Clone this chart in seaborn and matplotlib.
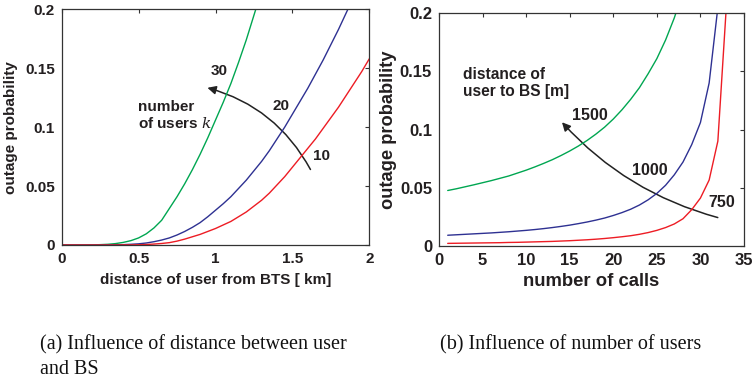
import numpy as np
import pandas as pd
import matplotlib
matplotlib.use("Agg")
import matplotlib.pyplot as plt
from matplotlib.patches import FancyArrowPatch
import seaborn as sns

# ---- (a) outage probability vs distance, for k users ----
dist_km = [0.00, 0.05, 0.10, 0.15, 0.20, 0.25, 0.30, 0.35, 0.40, 0.45,
           0.50, 0.55, 0.60, 0.65, 0.70, 0.75, 0.80, 0.85, 0.90, 0.95,
           1.00, 1.05, 1.10, 1.15, 1.20, 1.25, 1.30, 1.35, 1.40, 1.45,
           1.50, 1.55, 1.60, 1.65, 1.70, 1.75, 1.80, 1.85, 1.90, 1.95, 2.00]
users_30 = [0.0, 0.0, 0.0, 0.0, 0.0001, 0.0003, 0.0006, 0.0012, 0.0022,
            0.0037, 0.006, 0.0095, 0.0145, 0.021, 0.031, 0.041, 0.052,
            0.064, 0.077, 0.091, 0.106, 0.121, 0.137, 0.155, 0.174, 0.195,
            0.216]
users_20 = [0.0, 0.0, 0.0, 0.0, 0.0, 0.0, 0.0001, 0.0002, 0.0003, 0.0006,
            0.001, 0.0017, 0.0028, 0.0042, 0.006, 0.0085, 0.0115, 0.015,
            0.019, 0.024, 0.0295, 0.035, 0.041, 0.048, 0.055, 0.063, 0.071,
            0.080, 0.090, 0.100, 0.111, 0.122, 0.133, 0.145, 0.157, 0.170,
            0.183, 0.197, 0.211]
users_10 = [0.0, 0.0, 0.0, 0.0, 0.0, 0.0, 0.0, 0.0, 0.0001, 0.0001,
            0.0002, 0.0004, 0.0008, 0.0013, 0.002, 0.0033, 0.005, 0.007,
            0.009, 0.0115, 0.014, 0.017, 0.020, 0.024, 0.028, 0.033, 0.038,
            0.044, 0.051, 0.058, 0.066, 0.074, 0.082, 0.090, 0.099, 0.108,
            0.117, 0.127, 0.137, 0.147, 0.158]
user_counts = ["30", "20", "10"]

# ---- (b) outage probability vs number of calls, for user-BS distance ----
calls = list(range(1, 34))
out_1500 = [0.0475, 0.049, 0.0507, 0.0524, 0.0542, 0.056, 0.058, 0.060,
            0.0625, 0.065, 0.0678, 0.0708, 0.074, 0.0776, 0.0815, 0.0858,
            0.0906, 0.096, 0.102, 0.109, 0.117, 0.126, 0.136, 0.148, 0.161,
            0.177, 0.196, 0.219]
out_1000 = [0.009, 0.0094, 0.0098, 0.0102, 0.0106, 0.011, 0.0115, 0.012,
            0.0126, 0.0132, 0.0139, 0.0147, 0.0156, 0.0166, 0.0177, 0.019,
            0.0204, 0.022, 0.0238, 0.026, 0.0285, 0.0314, 0.035, 0.0395,
            0.045, 0.052, 0.061, 0.072, 0.087, 0.106, 0.140, 0.205]
out_750 = [0.0020, 0.0021, 0.0022, 0.0023, 0.0024, 0.0025, 0.0026, 0.0028,
           0.0029, 0.0031, 0.0033, 0.0035, 0.0037, 0.0040, 0.0043, 0.0047,
           0.0051, 0.0056, 0.0062, 0.0069, 0.0077, 0.0086, 0.0098, 0.0113,
           0.0132, 0.0156, 0.0187, 0.0232, 0.031, 0.041, 0.0565, 0.090,
           0.209]
distances_m = ["1500", "1000", "750"]

GREEN, BLUE, RED = "#00a651", "#2e3192", "#ed1c24"
INK = "#231f20"

sns.set_theme(style="white")
plt.rcParams["font.family"] = ["Liberation Sans", "DejaVu Sans"]
plt.rcParams["mathtext.fontset"] = "dejavuserif"

df_a = pd.concat([
    pd.DataFrame({"d": dist_km[:len(users_30)], "p": users_30, "k": "30"}),
    pd.DataFrame({"d": dist_km[:len(users_20)], "p": users_20, "k": "20"}),
    pd.DataFrame({"d": dist_km[:len(users_10)], "p": users_10, "k": "10"}),
])
df_b = pd.concat([
    pd.DataFrame({"n": calls[:len(out_1500)], "p": out_1500, "r": "1500"}),
    pd.DataFrame({"n": calls[:len(out_1000)], "p": out_1000, "r": "1000"}),
    pd.DataFrame({"n": calls[:len(out_750)], "p": out_750, "r": "750"}),
])

fig = plt.figure(figsize=(7.53, 3.84), dpi=100)
ax1 = fig.add_axes([61.7 / 753, 1 - 245 / 384, (369.3 - 61.7) / 753, (245 - 9.3) / 384])
ax2 = fig.add_axes([439 / 753, 1 - 245.7 / 384, (744 - 439) / 753, (245.7 - 13.3) / 384])

sns.lineplot(data=df_a, x="d", y="p", hue="k", hue_order=user_counts,
             palette=[GREEN, BLUE, RED], linewidth=1.0, legend=False,
             ax=ax1, estimator=None, sort=False)
sns.lineplot(data=df_b, x="n", y="p", hue="r", hue_order=distances_m,
             palette=[GREEN, BLUE, RED], linewidth=1.0, legend=False,
             ax=ax2, estimator=None, sort=False)


def style_axes(ax, size):
    for s in ax.spines.values():
        s.set_color("#333333")
        s.set_linewidth(0.9)
    ax.tick_params(direction="in", length=3, width=0.8, colors="#333333",
                   top=True, right=True, labelsize=size, labelcolor=INK,
                   pad=5)
    for lab in ax.get_xticklabels() + ax.get_yticklabels():
        lab.set_fontweight("bold")


ax1.set_xlim(0, 2)
ax1.set_ylim(0, 0.2)
ax1.set_xticks([0, 0.5, 1, 1.5, 2])
ax1.set_xticklabels(["0", "0.5", "1", "1.5", "2"])
ax1.set_yticks([0, 0.05, 0.1, 0.15, 0.2])
ax1.set_yticklabels(["0", "0.05", "0.1", "0.15", "0.2"])
style_axes(ax1, 11)
ax1.set_xlabel("distance of user from BTS [ km]", fontsize=11,
               fontweight="bold", color=INK, labelpad=5)
ax1.set_ylabel("outage probability", fontsize=11, fontweight="bold",
               color=INK, labelpad=5)

ax2.set_xlim(0, 35)
ax2.set_ylim(0, 0.2)
ax2.set_xticks(range(0, 36, 5))
ax2.set_yticks([0, 0.05, 0.1, 0.15, 0.2])
ax2.set_yticklabels(["0", "0.05", "0.1", "0.15", "0.2"])
style_axes(ax2, 12)
ax2.set_xlabel("number of calls", fontsize=13.3, fontweight="bold",
               color=INK, labelpad=4)
ax2.set_ylabel("outage probability", fontsize=13.2, fontweight="bold",
               color=INK, labelpad=2)

txt = dict(fontweight="bold", color=INK)
ax1.text(1.027, 0.148, "30", fontsize=11, ha="center", va="center", **txt)
ax1.text(1.423, 0.118, "20", fontsize=11, ha="center", va="center", **txt)
ax1.text(1.686, 0.0757, "10", fontsize=11, ha="center", va="center", **txt)
ax1.text(0.493, 0.110, "number\nof users $k$", fontsize=11, ha="left",
         va="center", linespacing=1.15, **txt)
ax1.add_patch(FancyArrowPatch((1.626, 0.062), (0.93, 0.134),
                              connectionstyle="arc3,rad=0.22",
                              arrowstyle="-|>,head_length=5,head_width=2.5",
                              color="#222222", lw=1.1))

ax2.text(2.75, 0.140, "distance of\nuser to BS [m]", fontsize=11.2,
         ha="left", va="center", linespacing=1.2, **txt)
ax2.text(17.3, 0.112, "1500", fontsize=11.5, ha="center", va="center", **txt)
ax2.text(24.2, 0.0647, "1000", fontsize=11.5, ha="center", va="center", **txt)
ax2.text(32.5, 0.037, "750", fontsize=11.5, ha="center", va="center", **txt)
ax2.add_patch(FancyArrowPatch((32.3, 0.0236), (13.9, 0.108),
                              connectionstyle="arc3,rad=-0.15",
                              arrowstyle="-|>,head_length=5,head_width=2.5",
                              color="#222222", lw=1.1))

cap = dict(family=["Liberation Serif", "DejaVu Serif"], fontsize=14.5,
           color="#111111", va="center", ha="left")
fig.text(40 / 753, 1 - 345 / 384, "(a) Influence of distance between user", **cap)
fig.text(40 / 753, 1 - 370 / 384, "and BS", **cap)
fig.text(440 / 753, 1 - 345 / 384, "(b) Influence of number of users", **cap)

fig.savefig("out.png", dpi=100)
